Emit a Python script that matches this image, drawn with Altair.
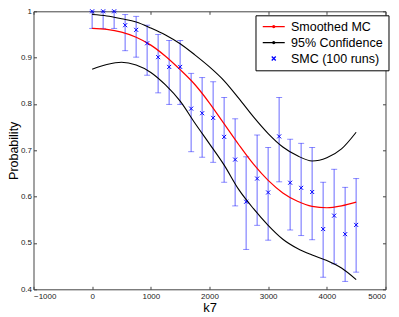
import altair as alt
import pandas as pd

# ---- data ----
k_smc = [0, 187.5, 375, 562.5, 750, 937.5, 1125, 1312.5, 1500, 1687.5, 1875, 2062.5,
         2250, 2437.5, 2625, 2812.5, 3000, 3187.5, 3375, 3562.5, 3750, 3937.5, 4125,
         4312.5, 4500]
smc = [1.0, 1.0, 1.0, 0.970, 0.960, 0.931, 0.901, 0.880, 0.880, 0.790, 0.780, 0.770,
       0.729, 0.680, 0.589, 0.639, 0.609, 0.730, 0.630, 0.619, 0.610, 0.530, 0.559,
       0.519, 0.539]
smc_hi = [1.0, 1.0, 1.0, 0.993, 0.989, 0.970, 0.950, 0.937, 0.937, 0.866, 0.857, 0.848,
          0.814, 0.768, 0.686, 0.733, 0.706, 0.814, 0.724, 0.715, 0.706, 0.631, 0.659,
          0.620, 0.639]
smc_lo = [0.963, 0.963, 0.963, 0.915, 0.901, 0.862, 0.824, 0.799, 0.799, 0.697, 0.685,
          0.674, 0.631, 0.580, 0.486, 0.538, 0.506, 0.632, 0.528, 0.516, 0.507, 0.426,
          0.455, 0.417, 0.437]

k_curve = [0, 250, 500, 750, 1000, 1250, 1500, 1750, 2000, 2250, 2500, 2750, 3000,
           3250, 3500, 3750, 4000, 4250, 4500]
mc = [0.963, 0.961, 0.955, 0.944, 0.927, 0.903, 0.874, 0.842, 0.802, 0.757, 0.712,
      0.670, 0.635, 0.608, 0.590, 0.579, 0.576, 0.580, 0.588]
conf_hi = [0.993, 0.990, 0.984, 0.977, 0.964, 0.949, 0.930, 0.906, 0.880, 0.850, 0.812,
           0.772, 0.736, 0.707, 0.688, 0.677, 0.684, 0.703, 0.739]
conf_lo = [0.875, 0.885, 0.890, 0.884, 0.868, 0.841, 0.806, 0.759, 0.714, 0.668, 0.615,
           0.574, 0.538, 0.508, 0.488, 0.474, 0.462, 0.446, 0.421]

series_names = ["Smoothed MC", "95% Confidence", "SMC (100 runs)"]
series_colors = ["#ff0000", "#000000", "#0000ff"]
line_sym = "M-2.2,0L2.2,0M-0.2,0A0.2,0.2 0 1,1 0.2,0A0.2,0.2 0 1,1 -0.2,0"
x_sym = "M-0.4,-0.4L0.4,0.4M-0.4,0.4L0.4,-0.4"
series_shapes = [line_sym, line_sym, x_sym]

x_ticks = [-1000, 0, 1000, 2000, 3000, 4000, 5000]
y_ticks = [0.4, 0.5, 0.6, 0.7, 0.8, 0.9, 1.0]

df_smc = pd.DataFrame({"k": k_smc, "p": smc, "hi": smc_hi, "lo": smc_lo,
                       "series": "SMC (100 runs)"})
df_curve = pd.DataFrame({"k": k_curve, "mc": mc, "up": conf_hi, "dn": conf_lo})

FONT = "Liberation Sans"
W, H = 352, 278
xs = alt.Scale(domain=[-1000, 5000], nice=False, zero=False)
ys = alt.Scale(domain=[0.4, 1.0], nice=False, zero=False)

common_axis = dict(grid=False, domain=False, offset=-3, tickSize=3, tickColor="#444",
                   labelFont=FONT, labelFontSize=8, labelColor="#222",
                   titleFont=FONT, titleFontWeight="normal", titleColor="#000")

x_bottom = alt.Axis(orient="bottom", values=x_ticks, format="d", title="k7",
                    labelPadding=3, titleFontSize=13, titlePadding=1, **common_axis)
y_left = alt.Axis(orient="left", values=y_ticks, format="~g", title="Probability",
                  labelPadding=2, titleFontSize=12.5, titleX=-16, titleY=H / 2,
                  titleAngle=270, titleAlign="center", titleBaseline="bottom",
                  **common_axis)
x_top = alt.Axis(orient="top", values=x_ticks, labels=False, title=None, grid=False,
                 domain=False, offset=-3, tickSize=3, tickColor="#444")
y_right = alt.Axis(orient="right", values=y_ticks, labels=False, title=None, grid=False,
                   domain=False, offset=-3, tickSize=3, tickColor="#444")

legend = alt.Legend(title=None, orient="none", legendX=222, legendY=4,
                    strokeColor="#000", fillColor="white", padding=5,
                    labelFont=FONT, labelFontSize=12.5, labelColor="#000",
                    symbolSize=100, symbolStrokeWidth=1.3, symbolOffset=7,
                    labelOffset=11, rowPadding=3)

base = alt.Chart(df_smc)
err = base.mark_rule(color="#0000ff", opacity=0.45, strokeWidth=1.3).encode(
    x=alt.X("k:Q", scale=xs, axis=None),
    y=alt.Y("lo:Q", scale=ys, axis=None),
    y2="hi:Q")
cap_hi = base.mark_tick(orient="horizontal", size=6, thickness=1, color="#0000ff",
                        opacity=0.45).encode(
    x=alt.X("k:Q", scale=xs, axis=None), y=alt.Y("hi:Q", scale=ys, axis=None))
cap_lo = base.mark_tick(orient="horizontal", size=6, thickness=1, color="#0000ff",
                        opacity=0.45).encode(
    x=alt.X("k:Q", scale=xs, axis=None), y=alt.Y("lo:Q", scale=ys, axis=None))
pts = base.mark_point(size=100, strokeWidth=1, filled=False, opacity=1).encode(
    x=alt.X("k:Q", scale=xs, axis=None),
    y=alt.Y("p:Q", scale=ys, axis=None),
    color=alt.Color("series:N", scale=alt.Scale(domain=series_names, range=series_colors),
                    legend=legend),
    shape=alt.Shape("series:N", scale=alt.Scale(domain=series_names, range=series_shapes),
                    legend=legend))

curve = alt.Chart(df_curve)
mc_line = curve.mark_line(color="#ff0000", strokeWidth=1.2, interpolate="monotone").encode(
    x=alt.X("k:Q", scale=xs, axis=x_bottom),
    y=alt.Y("mc:Q", scale=ys, axis=y_left))
up_line = curve.mark_line(color="#000000", strokeWidth=1.1, interpolate="monotone").encode(
    x=alt.X("k:Q", scale=xs, axis=x_top),
    y=alt.Y("up:Q", scale=ys, axis=y_right))
dn_line = curve.mark_line(color="#000000", strokeWidth=1.1, interpolate="monotone").encode(
    x=alt.X("k:Q", scale=xs, axis=None),
    y=alt.Y("dn:Q", scale=ys, axis=None))

chart = alt.layer(err, cap_hi, cap_lo, mc_line, up_line, dn_line, pts).resolve_axis(
    x="independent", y="independent"
).properties(
    width=W, height=H,
    autosize=alt.AutoSizeParams(type="none"),
    padding={"left": 25.5, "top": 3.3, "right": 5, "bottom": 26},
).configure_view(stroke="#444", strokeWidth=1)

chart.save("out.html", embed_options={"renderer": "svg", "actions": False})
